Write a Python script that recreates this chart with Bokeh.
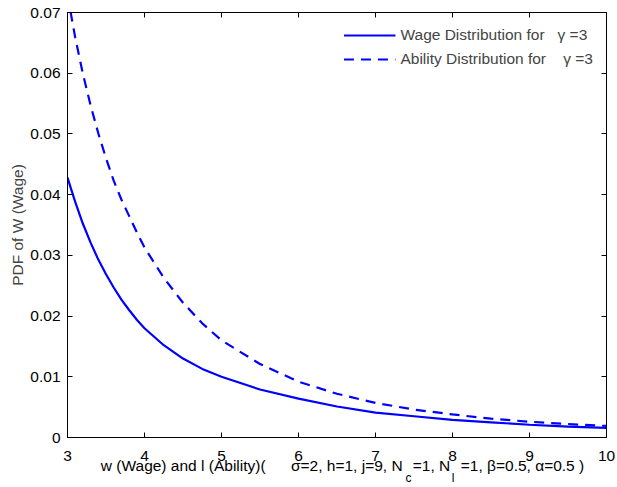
from bokeh.plotting import figure
from bokeh.models import Range1d, LinearAxis, FixedTicker, Legend
from bokeh.embed import file_html
from bokeh.resources import INLINE

# ---- data ----
w = [3.0, 3.1, 3.2, 3.3, 3.4, 3.5, 3.6, 3.7, 3.8, 3.9, 4.0, 4.25, 4.5, 4.75, 5.0,
     5.5, 6.0, 6.5, 7.0, 7.5, 8.0, 8.5, 9.0, 9.5, 10.0]
wage_pdf = [0.0428, 0.0388, 0.0352, 0.0321, 0.0293, 0.0269, 0.0247, 0.0227,
            0.0210, 0.0194, 0.0180, 0.0152, 0.0130, 0.0113, 0.0100, 0.0079,
            0.0064, 0.0051, 0.0041, 0.0035, 0.0029, 0.0025, 0.0021, 0.0018, 0.0016]
ability_pdf = [0.0729, 0.0659, 0.0599, 0.0547, 0.0501, 0.0460, 0.0423, 0.0392,
               0.0365, 0.0338, 0.0313, 0.0263, 0.0222, 0.0188, 0.0160, 0.0121,
               0.0092, 0.0072, 0.0057, 0.0046, 0.0038, 0.0031, 0.0026, 0.0022, 0.0019]
x_ticks = [3, 4, 5, 6, 7, 8, 9, 10]
y_ticks = [0, 0.01, 0.02, 0.03, 0.04, 0.05, 0.06, 0.07]
legend_labels = ["Wage Distribution for   \u03b3 =3", "Ability Distribution for    \u03b3 =3"]
y_title = "PDF of W (Wage)"
# x title, split so that N_c and N_l get real subscripts
x_title_parts = ["w (Wage) and l (Ability)(", "\u03c3=2, h=1, j=9, N", "=1, N",
                 "=1, \u03b2=0.5, \u03b1=0.5 )"]
x_title_subs = ["c", "l"]

FONT = "Liberation Sans"
FS = "15.5px"
BLUE = "#0000ff"

p = figure(width=617, height=487, output_backend="svg", toolbar_location=None,
           x_range=Range1d(3, 10), y_range=Range1d(0, 0.07),
           min_border_left=67, min_border_right=11, min_border_top=12, min_border_bottom=49)
p.grid.visible = False
p.outline_line_color = "black"
p.outline_line_width = 1

r1 = p.line(w, wage_pdf, line_color=BLUE, line_width=2.2)
r2 = p.line(w, ability_pdf, line_color=BLUE, line_width=2.2, line_dash="10 7")

xa = p.xaxis[0]
xa.ticker = FixedTicker(ticks=x_ticks)
ya = p.yaxis[0]
ya.ticker = FixedTicker(ticks=y_ticks)
for ax in (xa, ya):
    ax.major_tick_in = 5
    ax.major_tick_out = 0
    ax.minor_tick_line_color = None
    ax.axis_line_color = "black"
    ax.major_tick_line_color = "black"
    ax.major_label_text_font = FONT
    ax.major_label_text_font_size = FS
    ax.major_label_text_color = "black"
xa.major_label_standoff = 13
ya.major_label_standoff = 7
ya.major_label_overrides = {0: "0"}
ya.axis_label = y_title
ya.axis_label_text_font = FONT
ya.axis_label_text_font_size = FS
ya.axis_label_text_font_style = "normal"
ya.axis_label_standoff = 1

top = LinearAxis(ticker=FixedTicker(ticks=x_ticks))
right = LinearAxis(ticker=FixedTicker(ticks=y_ticks))
for ax in (top, right):
    ax.major_tick_in = 5
    ax.major_tick_out = 0
    ax.minor_tick_line_color = None
    ax.axis_line_color = "black"
    ax.major_tick_line_color = "black"
    ax.major_label_text_font_size = "1px"
    ax.major_label_text_color = None
    ax.major_label_standoff = 0
p.add_layout(top, "above")
p.add_layout(right, "right")

# x-axis title: two label-only axes below the tick labels
def px_x(px):
    return round(3 + (px - 67) / 77.0, 4)

main_centers = [px_x(c) for c in (182.7, 346.3, 431.0, 522.0)]
sub_centers = [px_x(c) for c in (408.0, 452.5)]

title_axis = LinearAxis(ticker=FixedTicker(ticks=main_centers),
                        major_label_overrides=dict(zip(main_centers, x_title_parts)))
sub_axis = LinearAxis(ticker=FixedTicker(ticks=sub_centers),
                      major_label_overrides=dict(zip(sub_centers, x_title_subs)))
for ax, fs, so in ((title_axis, FS, -7), (sub_axis, "12px", -6)):
    ax.axis_line_color = None
    ax.major_tick_line_color = None
    ax.minor_tick_line_color = None
    ax.major_tick_in = 0
    ax.major_tick_out = 0
    ax.major_label_text_font = FONT
    ax.major_label_text_font_size = fs
    ax.major_label_text_color = "black"
    ax.major_label_standoff = so
p.add_layout(title_axis, "below")
p.add_layout(sub_axis, "below")

legend = Legend(items=[(legend_labels[0], [r1]), (legend_labels[1], [r2])],
                location="top_right")
legend.border_line_alpha = 0
legend.background_fill_color = "white"
legend.background_fill_alpha = 1
legend.label_text_font = FONT
legend.label_text_font_size = FS
legend.glyph_width = 52
legend.glyph_height = 20
legend.label_height = 20
legend.label_standoff = 5
legend.spacing = 4
legend.padding = 6
legend.margin = 7
p.add_layout(legend)

open("out.html", "w").write(file_html(p, INLINE))
